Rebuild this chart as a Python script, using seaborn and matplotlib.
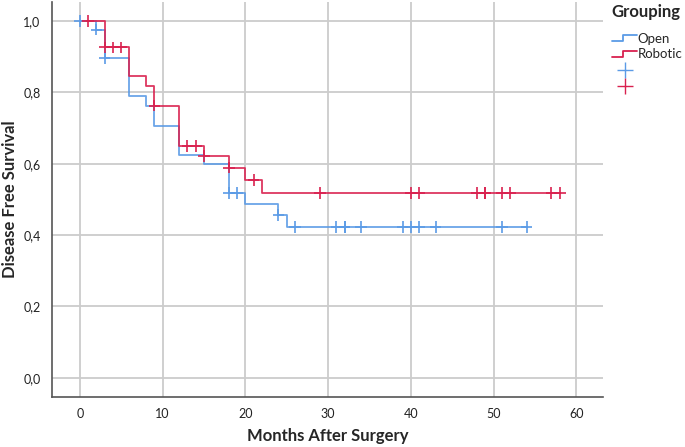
import numpy as np
import pandas as pd
import matplotlib
matplotlib.use("Agg")
import matplotlib.pyplot as plt
import seaborn as sns
from matplotlib.lines import Line2D
from matplotlib.legend_handler import HandlerBase

# Kaplan-Meier steps
open_times = [0, 2, 3, 6, 8, 9, 12, 15, 18, 20, 24, 25, 54]
open_surv = [1.0, 0.976, 0.897, 0.789, 0.762, 0.707, 0.625, 0.600, 0.518, 0.488, 0.457, 0.423, 0.423]
open_censor = [0, 2, 3, 18, 19, 24, 26, 31, 32, 32, 34, 39, 40, 41, 43, 51, 54]

robotic_times = [0, 3, 6, 8, 9, 12, 15, 18, 20, 22, 58]
robotic_surv = [1.0, 0.926, 0.846, 0.818, 0.763, 0.649, 0.621, 0.589, 0.554, 0.518, 0.518]
robotic_censor = [1, 3, 4, 5, 9, 13, 14, 15, 18, 21, 29, 40, 41, 48, 49, 49, 51, 52, 57, 58]

groups = ["Open", "Robotic"]
colors = {"Open": "#5b9be6", "Robotic": "#d9214f"}
y_ticks = [0.0, 0.2, 0.4, 0.6, 0.8, 1.0]
x_ticks = [0, 10, 20, 30, 40, 50, 60]


def censor_levels(times, surv, cens):
    idx = np.searchsorted(times, cens, side="right") - 1
    return [surv[i] for i in idx]


steps = pd.concat([
    pd.DataFrame({"Months": open_times, "Survival": open_surv, "Grouping": "Open"}),
    pd.DataFrame({"Months": robotic_times, "Survival": robotic_surv, "Grouping": "Robotic"}),
])
marks = pd.concat([
    pd.DataFrame({"Months": open_censor,
                  "Survival": censor_levels(open_times, open_surv, open_censor),
                  "Grouping": "Open"}),
    pd.DataFrame({"Months": robotic_censor,
                  "Survival": censor_levels(robotic_times, robotic_surv, robotic_censor),
                  "Grouping": "Robotic"}),
])

sns.set_style("white")
plt.rcParams["font.family"] = ["Lato", "DejaVu Sans"]

fig = plt.figure(figsize=(6.85, 4.47), dpi=100)
ax = fig.add_axes([0.0755, 0.1125, 0.8045, 0.8835])

ax.grid(True, color="#cccccc", linewidth=1.3)
ax.set_axisbelow(True)

sns.lineplot(data=steps, x="Months", y="Survival", hue="Grouping", palette=colors,
             drawstyle="steps-post", linewidth=1.3, alpha=0.9, estimator=None,
             sort=False, legend=False, ax=ax)
sns.scatterplot(data=marks, x="Months", y="Survival", hue="Grouping", palette=colors,
                marker="+", s=70, linewidth=1.2, legend=False, ax=ax, zorder=3)

ax.set_xlim(-3.4, 63.2)
ax.set_ylim(-0.053, 1.054)
ax.set_xticks(x_ticks)
ax.set_yticks(y_ticks)
ax.set_yticklabels([f"{v:.1f}".replace(".", ",") for v in y_ticks])
ax.tick_params(axis="both", labelsize=9, length=0, pad=8, colors="#222222")
for s in ["top", "right"]:
    ax.spines[s].set_visible(False)
for s in ["left", "bottom"]:
    ax.spines[s].set_color("#555555")
    ax.spines[s].set_linewidth(1.2)

ax.set_xlabel("Months After Surgery", fontsize=12, fontweight="bold", labelpad=6)
ax.set_ylabel("Disease Free Survival", fontsize=12, fontweight="bold", labelpad=4)


class StepHandler(HandlerBase):
    def create_artists(self, legend, orig, xd, yd, width, height, fontsize, trans):
        xs = [xd, xd + width * 0.45, xd + width * 0.45, xd + width]
        ys = [yd + height * 0.2, yd + height * 0.2, yd + height * 0.85, yd + height * 0.85]
        ln = Line2D(xs, ys, color=orig.get_color(), linewidth=1.3, transform=trans)
        return [ln]


fig.text(0.893, 0.973, "Grouping", fontsize=12, fontweight="bold", va="center", ha="left")

handles = [Line2D([], [], color=colors[g]) for g in groups]
plus = [Line2D([], [], color=colors[g], marker="+", markersize=11, linestyle="")
        for g in groups]
leg = fig.legend(handles + plus, groups + ["", ""],
                 handler_map={h: StepHandler() for h in handles},
                 loc="upper left", bbox_to_anchor=(0.882, 0.945), frameon=False,
                 fontsize=9.5, handlelength=1.9, handletextpad=0.05,
                 labelspacing=0.3, borderaxespad=0.2)

fig.savefig("out.png", dpi=100)
